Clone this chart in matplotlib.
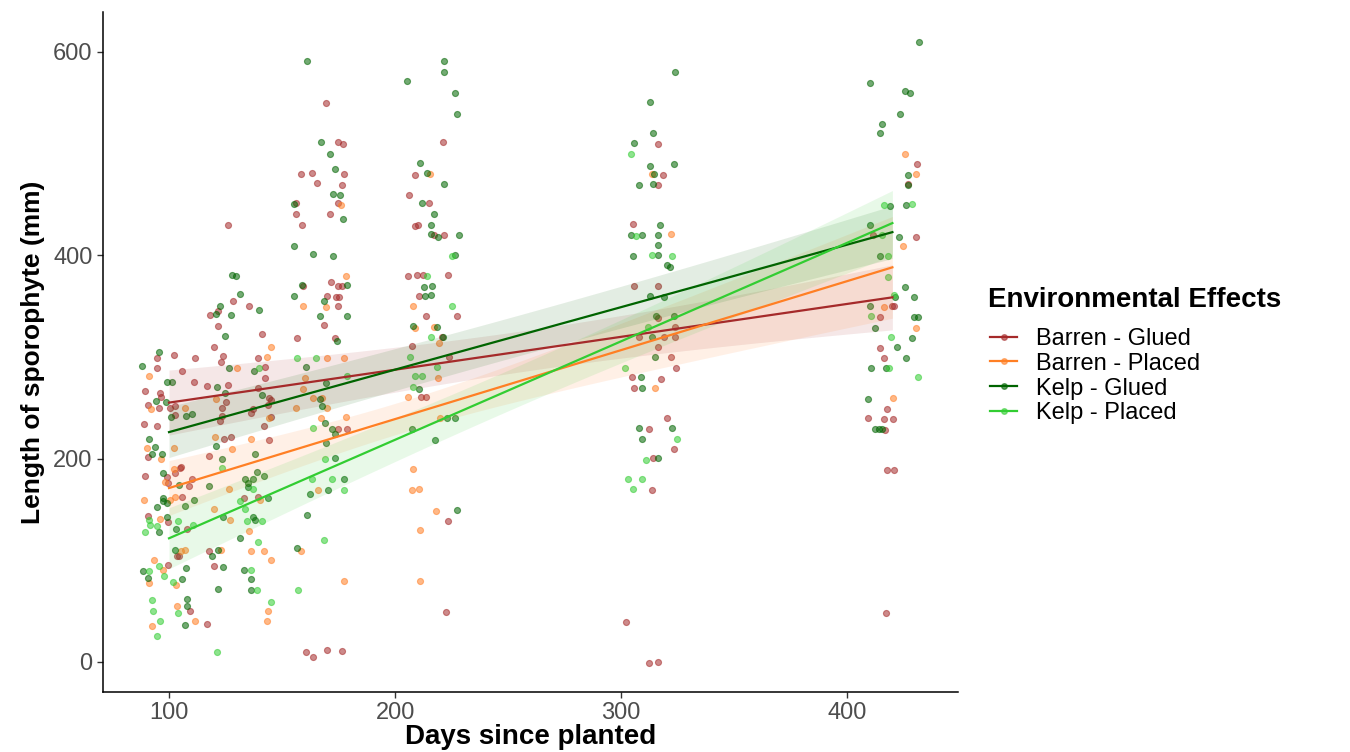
import numpy as np
import matplotlib.pyplot as plt
from matplotlib.lines import Line2D
from matplotlib.colors import to_rgba

plt.rcParams['font.family'] = ['Liberation Sans', 'DejaVu Sans']

groups = ["Barren - Glued", "Barren - Placed", "Kelp - Glued", "Kelp - Placed"]
colours = ["#A52A2A", "#FF7F24", "#006400", "#32CD32"]

# (days since planted, sporophyte length in mm), jittered on the day axis
barren_glued = np.array([
    (102.2, 302), (94.6, 299), (94.6, 289), (105.8, 286), (89.5, 266), (96, 264), (96.4, 261),
    (90.5, 253), (95.6, 250), (100.4, 250), (102.8, 252), (102.8, 243), (88.9, 234), (94.6, 232),
    (90.9, 202), (89.5, 183), (99.2, 182), (102.8, 186), (105.5, 192), (99.7, 176), (90.7, 144),
    (99.7, 138), (108.1, 131), (103.5, 104), (104.2, 104), (99.7, 95),
    (121.8, 330), (141, 322), (120, 310), (111.6, 299), (124, 301), (123, 295), (139.2, 299),
    (142.5, 290), (142.5, 279), (111.1, 275), (117, 271), (126.1, 272), (139.2, 269), (144.4, 260),
    (145.1, 258), (125.4, 256), (123.4, 250), (137.3, 249), (143.9, 253), (123.5, 242), (136.3, 245),
    (122.4, 237), (145.1, 241), (142.2, 232), (124.2, 219), (127.3, 221), (144.1, 218), (117.7, 203),
    (105, 191), (110, 180), (108.9, 173), (105.9, 162), (133.3, 161), (139.2, 162), (117.8, 109),
    (120, 94), (109.3, 50), (116.8, 37), (126, 429.5), (128.5, 355), (135.5, 350), (121.8, 345),
    (118.1, 341),
    (169.3, 550), (174.9, 511), (177.1, 509), (158.4, 480), (163.1, 481), (177.6, 480), (165.6, 470.5),
    (176.4, 469), (156.1, 451), (174.9, 451), (156.1, 440), (171, 440), (159, 429.6), (159.4, 370),
    (171.5, 373.7), (174.6, 370), (176.4, 370), (169.8, 360), (173.9, 359), (175.2, 359), (174.6, 350),
    (168.6, 331), (156.6, 319), (173.5, 319), (174.6, 229), (178.9, 229), (160.6, 9.8), (163.9, 4.6),
    (169.8, 11.8), (176.4, 10.6),
    (221.4, 511), (208.6, 479), (206.2, 459), (215.2, 451), (208.6, 429), (210, 430), (217, 420),
    (221.8, 420), (205.6, 379), (209.6, 380), (212.5, 380), (223.6, 380), (210.5, 359.8), (213.6, 339.7),
    (227.3, 339.7), (220.7, 319.6), (207.5, 310.8), (223.9, 300), (211.5, 260.2), (213.7, 260.2),
    (223.2, 139), (222.4, 49.2),
    (316.5, 508.9), (318.3, 478.5), (316.1, 469), (305.2, 430.7), (305.7, 369.2), (316.1, 369.2),
    (316.5, 338.1), (307.7, 319.9), (319, 319.9), (323.9, 329.2), (323.9, 319.9), (316.1, 309.3),
    (322, 299.7), (324.3, 289.2), (305, 280.6), (317.7, 278.2), (305.7, 269.7), (320.2, 239.8),
    (312.4, 229.3), (323.2, 209.8), (314, 200.1), (313.6, 169.4), (302.2, 39.4), (312.2, -1), (316.1, 0.2),
    (431, 489.3), (427.1, 469.6), (411.4, 419.9), (430.4, 418), (419.8, 349.5), (420.8, 349.5),
    (414.3, 338.9), (414.7, 308.7), (416.5, 299.3), (417.8, 248.3), (409.4, 240.1), (416.1, 239.3),
    (420.1, 239), (416.8, 228), (417.5, 188.8), (420.8, 188.8), (417.1, 48.2),
])

barren_placed = np.array([
    (91.3, 281), (91.9, 249), (107, 250), (90.1, 210), (96.4, 200), (102.3, 210), (102.3, 190),
    (98.2, 177), (89, 159), (100.4, 159), (102.8, 162), (96, 141), (105.2, 109), (107.2, 110),
    (93.2, 100), (97.2, 90), (91.3, 78), (103.2, 76), (103.4, 55), (92.6, 35),
    (145.1, 310), (143.5, 300), (130.2, 289), (120.7, 259), (144.1, 240), (120.4, 221), (136.3, 219),
    (127.9, 209), (126.7, 170), (140.4, 159), (120, 150), (127, 140), (135.3, 129), (123.2, 110),
    (136.3, 109), (142.2, 109), (145.1, 100), (143.9, 50), (111.6, 40), (143.4, 40),
    (176, 449), (178.2, 379), (159.4, 350), (169.3, 349), (169.8, 299), (177.6, 299), (160.2, 278.8),
    (159.4, 268.7), (163.9, 260), (167.8, 260), (156.1, 249.4), (169.8, 249.4), (167.3, 239.8),
    (178.3, 240.6), (165.8, 169), (158.4, 109.4), (177.6, 80),
    (215.5, 480), (208.1, 350), (208.6, 328.5), (217, 329.7), (219.5, 313.6), (219.2, 279.6),
    (205.6, 260.2), (219.9, 240.2), (208.1, 189.6), (207.5, 169.2), (210.6, 170.4), (218.2, 148.7),
    (211.1, 129.4), (211.1, 80),
    (313.6, 479.7), (322, 420.6), (314.8, 269.7),
    (425.7, 499.8), (430.4, 479.5), (424.5, 408.6), (416.5, 348.7), (430.5, 327.9), (420.1, 259.3),
])

kelp_glued = np.array([
    (95.6, 305), (88.2, 291), (99.2, 275), (101.5, 275), (94.2, 257), (98.5, 256), (100.9, 241),
    (107.5, 242), (93.8, 211), (92.6, 204), (96.8, 204), (97.2, 186), (104.4, 174), (97.2, 161),
    (97.5, 158), (99.2, 156), (94.8, 152), (107.2, 153), (99.2, 143), (95.6, 128), (103.2, 131),
    (102.6, 110), (88.5, 89), (90.9, 83), (105.8, 82), (107.5, 92), (108.1, 62), (108.1, 55),
    (107, 36), (91.3, 219),
    (124.8, 320), (126.7, 289), (137.5, 286), (121.4, 270), (124.8, 264), (141, 262), (110, 244),
    (120.7, 212), (123.4, 200), (138, 204), (138.8, 187), (142.2, 183), (133.8, 180), (137, 180),
    (135.1, 176), (135.1, 172), (117.8, 173), (143.9, 161), (111.1, 159), (124, 143), (137, 143),
    (138, 140), (131.5, 122), (121.8, 110), (118.8, 104), (124, 93), (133.3, 90), (136.3, 82),
    (121.8, 72), (136.3, 71), (127.7, 380), (129.6, 379), (131.4, 362), (139.8, 346), (122.6, 350),
    (120.6, 342), (127.3, 341),
    (160.9, 590.5), (167.3, 511), (171, 499), (173.5, 485), (172.7, 460.5), (175.7, 459), (155.5, 450),
    (176.8, 436), (155.3, 409), (163.9, 400.7), (172.7, 399.5), (159, 370.6), (178.9, 371), (155.5, 360),
    (168.6, 354.6), (166.8, 339.7), (178.8, 340), (174.2, 316), (160.6, 289.6), (169.3, 274),
    (166.8, 258.7), (167.6, 251.4), (169, 234.6), (172.3, 229), (173.5, 224.5), (169.3, 215.3),
    (173.5, 200.5), (177.6, 180), (170.5, 169), (162.5, 165), (160.9, 144.6), (156.5, 112),
    (221.8, 590.5), (221.8, 580.5), (205.2, 571), (226.7, 559), (227.3, 538.7), (211.1, 490.6),
    (214, 481), (221.8, 470), (212.1, 451), (217, 440), (215.8, 430), (215.8, 421), (218.9, 418),
    (228.5, 420), (226.7, 400), (212.8, 368.6), (216.5, 369.8), (213.4, 360), (215.8, 361),
    (207.8, 330.5), (218.5, 329.7), (221.4, 319.6), (210.6, 268.7), (222.9, 239.4), (226.3, 240.2),
    (207.5, 229.4), (217.7, 218.5), (227.3, 149.9),
    (323.7, 580.4), (312.8, 550.5), (314, 520.5), (305.7, 510), (312.8, 488), (323.2, 489.4),
    (314.6, 479.7), (308.1, 469), (314, 470), (317.3, 429.5), (304.4, 419.8), (309.4, 419.8),
    (316.5, 419.8), (316.1, 410), (305.2, 399.6), (316.1, 400.3), (320.2, 389.9), (321.4, 388.7),
    (312.8, 359.6), (319, 358.8), (315.3, 340.5), (323.2, 340.5), (313.6, 319.9), (314.8, 299.7),
    (308.7, 280.6), (309.4, 269.7), (307.7, 230), (322.6, 230), (309.4, 219.5), (316.1, 200.1),
    (431.6, 609.2), (409.9, 569.6), (425.7, 561.3), (427.9, 559), (423.2, 538.7), (415.3, 528.9),
    (414.7, 520.2), (426.8, 478.7), (426.8, 468.6), (419, 448.2), (426.1, 449.3), (409.9, 430.1),
    (422.7, 418), (414.7, 399.2), (425.7, 369), (429.6, 359.2), (421.2, 358.8), (409.9, 349.5),
    (429.6, 338.9), (431.3, 338.9), (412.4, 327.9), (428.5, 318.5), (422, 309.8), (426.1, 298.5),
    (410.6, 289.5), (417.1, 289.5), (409.4, 258.2), (412.1, 228.8), (413.9, 229.5), (415.3, 228.8),
])

kelp_placed = np.array([
    (91.2, 140), (91.6, 135), (94.6, 134), (89.5, 128), (103.8, 139), (91.3, 89), (95.6, 94),
    (97.9, 85), (101.6, 79), (92.5, 61), (93.1, 50), (104, 48), (96, 40), (94.8, 26),
    (140, 289), (123.4, 191), (137.3, 170), (131.4, 158), (133.8, 150), (134.5, 139), (141, 139),
    (110.4, 135), (139.2, 118), (136.3, 90), (138.8, 71), (145.1, 59), (121.4, 10),
    (156.5, 299), (164.9, 299), (178.9, 281), (163.9, 230.5), (169, 199.3), (163.1, 180),
    (172.1, 180), (177.6, 169), (168.6, 119.8), (157.2, 70.8),
    (225.4, 398.7), (214, 379), (225.4, 350), (215.8, 319.8), (206.4, 300), (218.5, 289.6),
    (208.6, 280.7), (211.8, 280.7), (207.8, 270),
    (304.4, 499), (306.6, 418.6), (322.6, 399.6), (313.6, 400.3), (312.1, 329.2), (301.5, 289.2),
    (324.9, 219.5), (311.1, 199), (303.2, 179.9), (309.4, 179.9), (305.2, 170.2),
    (416.5, 449.3), (428.6, 450), (415.3, 419.9), (418, 399.2), (418, 378.5), (420.5, 360.8),
    (410.6, 340), (419.5, 319.7), (418.6, 289.5), (431.3, 279.7),
])

# linear fits: fitted length at the first and last sampling day
fit_days = [100, 420]
fit_start = [255, 171, 226, 121.6]
fit_end = [358.5, 388, 422.6, 431.5]

# half width of the 95% confidence band at day 100, 260 and 420
band_days = [100, 260, 420]
band_barren_glued = [32, 20, 32]
band_barren_placed = [27, 20, 50]
band_kelp_glued = [25, 20, 26]
band_kelp_placed = [30, 20, 32]

points = [barren_glued, barren_placed, kelp_glued, kelp_placed]
bands = [band_barren_glued, band_barren_placed, band_kelp_glued, band_kelp_placed]

fig = plt.figure(figsize=(13.5, 7.52), dpi=100)
ax = fig.add_axes([0.0763, 0.0798, 0.6333, 0.9042])

for pts, col in zip(points, colours):
    ax.scatter(pts[:, 0], pts[:, 1], s=19, color=col, alpha=0.55,
               linewidths=0.8, zorder=2)

xs = np.linspace(fit_days[0], fit_days[1], 200)
for i, col in enumerate(colours):
    fit = np.interp(xs, fit_days, [fit_start[i], fit_end[i]])
    # quadratic in the squared half width gives the usual flared band
    coef = np.polyfit(band_days, np.square(bands[i]), 2)
    hw = np.sqrt(np.polyval(coef, xs))
    ax.fill_between(xs, fit - hw, fit + hw, color=col, alpha=0.11, lw=0, zorder=3)
    ax.plot(xs, fit, color=col, lw=1.6, zorder=4)

ax.set_xlim(70.8, 449)
ax.set_ylim(-29.5, 639)
ax.set_xticks([100, 200, 300, 400])
ax.set_yticks([0, 200, 400, 600])
ax.tick_params(labelsize=17, labelcolor="#4D4D4D", color="#333333",
               length=4, width=1)
for side in ["top", "right"]:
    ax.spines[side].set_visible(False)
for side in ["left", "bottom"]:
    ax.spines[side].set_linewidth(1.1)

ax.set_xlabel("Days since planted", fontsize=20, fontweight="bold", labelpad=0)
ax.set_ylabel("Length of sporophyte (mm)", fontsize=19, fontweight="bold", labelpad=6)

handles = [Line2D([0], [0], color=c, lw=1.6, marker="o", markersize=4,
                  markerfacecolor=to_rgba(c, 0.6), markeredgecolor=to_rgba(c, 0.6))
           for c in colours]
fig.text(0.7319, 0.601, "Environmental Effects", fontsize=20, fontweight="bold",
         ha="left", va="center")
fig.legend(handles, groups, loc="upper left", bbox_to_anchor=(0.7333, 0.564),
           frameon=False, fontsize=17, borderpad=0, borderaxespad=0,
           handlelength=1.15, handletextpad=0.8, labelspacing=0.12)

fig.savefig("out.png", dpi=100)
